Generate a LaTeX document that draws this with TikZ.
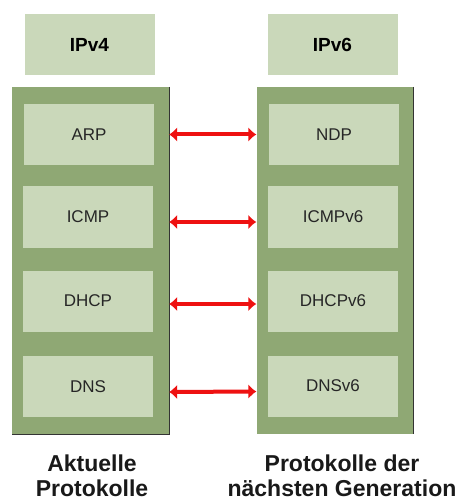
\documentclass[tikz,border=0pt]{standalone}
\usepackage{fontspec}
\setmainfont{Liberation Sans}
\usetikzlibrary{arrows.meta}
\definecolor{stackgreen}{HTML}{8FA874}
\definecolor{cellgreen}{HTML}{CAD8BA}
\definecolor{linkred}{HTML}{EE1111}
\begin{document}
\begin{tikzpicture}[x=1pt,y=-1pt,
  stack/.style={fill=stackgreen,draw=none,minimum width=157pt,minimum height=347pt,inner sep=0pt},
  cell/.style={fill=cellgreen,draw=none,minimum width=130pt,minimum height=61pt,inner sep=0pt,font=\fontsize{17}{20}\selectfont,text=black!85},
  head/.style={cell,font=\fontsize{19}{22}\selectfont\bfseries,text=black},
  caption/.style={align=center,font=\fontsize{23}{25}\selectfont\bfseries,text=black!90},
  link/.style={draw=linkred,line width=4pt,{Latex[length=8pt,width=15pt]}-{Latex[length=8pt,width=15pt]}},
  edge/.style={draw=black!80,line width=1pt}]
  \useasboundingbox (0,0) rectangle (466,502);
  \fill[white] (0,0) rectangle (466,502);

  % column headers
  \node[head] (v4) at (89.5,44.5) {IPv4};
  \node[head] (v6) at (332.5,44.5) {IPv6};

  % protocol stacks
  \node[stack] (L) at (90.5,260.5) {};
  \node[stack] (R) at (335,260.5) {};
  \draw[edge] (L.north east) -- (L.south east) -- (L.south west);
  \draw[edge] (R.north east) -- (R.south east);

  % IPv4 protocols
  \node[cell] (arp)  at (89,134.5) {ARP};
  \node[cell] (icmp) at (88,217)   {ICMP};
  \node[cell] (dhcp) at (88,301)   {DHCP};
  \node[cell] (dns)  at (88,386.5) {DNS};

  % IPv6 protocols
  \node[cell] (ndp)    at (334,134.5) {NDP};
  \node[cell] (icmp6)  at (333,217)   {ICMPv6};
  \node[cell] (dhcp6)  at (333,301)   {DHCPv6};
  \node[cell] (dns6)   at (333,386)   {DNSv6};

  % correspondences
  \draw[link] ([yshift=0pt]arp.east -| L.east)  -- ([yshift=0pt]ndp.west -| R.west);
  \draw[link] ([yshift=-5pt]icmp.east -| L.east) -- ([yshift=-5pt]icmp6.west -| R.west);
  \draw[link] ([yshift=-3pt]dhcp.east -| L.east) -- ([yshift=-3pt]dhcp6.west -| R.west);
  \draw[link] ([yshift=-5.5pt]dns.east -| L.east) -- ([yshift=-5.5pt]dns6.west -| R.west);

  % captions
  \node[caption] (capL) at (92,476) {Aktuelle\\Protokolle};
  \node[caption] (capR) at (342,476) {Protokolle der\\nächsten Generation};
\end{tikzpicture}
\end{document}
